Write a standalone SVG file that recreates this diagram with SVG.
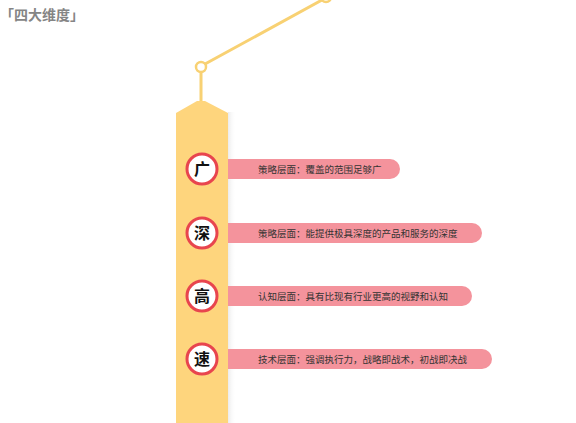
<svg xmlns="http://www.w3.org/2000/svg" width="576" height="423" viewBox="0 0 576 423">
<defs>
<linearGradient id="shade" x1="0" y1="0" x2="1" y2="0">
<stop offset="0" stop-color="#e6e6e6" stop-opacity="0.8"/>
<stop offset="1" stop-color="#ffffff" stop-opacity="0"/>
</linearGradient>
<style>
.arm{stroke:#F8D173;stroke-width:3;fill:none;stroke-linecap:round}
.joint{stroke:#F8D173;stroke-width:2.5;fill:#fff}
.ring{fill:#fff;stroke:#E8454E;stroke-width:3}
.ch{font-family:"Noto Sans CJK SC","Noto Sans CJK JP",sans-serif;font-size:16px;font-weight:bold;fill:#111;text-anchor:middle}
.bar{fill:#F4939C}
.lbl{font-family:"Noto Sans CJK SC","Noto Sans CJK JP",sans-serif;font-size:9.5px;fill:#333}
</style>
</defs>
<rect width="576" height="423" fill="#fff"/>
<text x="0" y="20" font-family="Noto Sans CJK SC, Noto Sans CJK JP, sans-serif" font-size="14" font-weight="bold" fill="#858585">「四大维度」</text>
<g id="lamp">
<line class="arm" x1="205" y1="64" x2="322" y2="0"/>
<line class="arm" x1="201" y1="72" x2="201" y2="103"/>
<circle class="joint" cx="201" cy="67" r="5"/>
<circle class="joint" cx="326" cy="-3" r="5"/>
<rect x="228" y="112" width="8" height="311" fill="url(#shade)"/>
<path d="M176,113 L197,101 L205,101 L228,113 L228,423 L176,423 Z" fill="#FED57D"/>
</g>
<g id="connectors"></g>
<g id="n1">
<path class="bar" d="M228,159 H390 A10,10 0 0 1 390,179 H228 Z"/>
<circle class="ring" cx="202" cy="169" r="15"/>
<text class="ch" x="202" y="175">广</text>
<text class="lbl" x="258" y="172.5">策略层面：覆盖的范围足够广</text>
</g>
<g id="n2">
<path class="bar" d="M228,223 H472 A10,10 0 0 1 472,243 H228 Z"/>
<circle class="ring" cx="202" cy="233" r="15"/>
<text class="ch" x="202" y="239">深</text>
<text class="lbl" x="258" y="236.5">策略层面：能提供极具深度的产品和服务的深度</text>
</g>
<g id="n3">
<path class="bar" d="M228,286 H462 A10,10 0 0 1 462,306 H228 Z"/>
<circle class="ring" cx="202" cy="296" r="15"/>
<text class="ch" x="202" y="302">高</text>
<text class="lbl" x="258" y="299.5">认知层面：具有比现有行业更高的视野和认知</text>
</g>
<g id="n4">
<path class="bar" d="M228,349 H482 A10,10 0 0 1 482,369 H228 Z"/>
<circle class="ring" cx="202" cy="359" r="15"/>
<text class="ch" x="202" y="365">速</text>
<text class="lbl" x="258" y="362.5">技术层面：强调执行力，战略即战术，初战即决战</text>
</g>
</svg>
